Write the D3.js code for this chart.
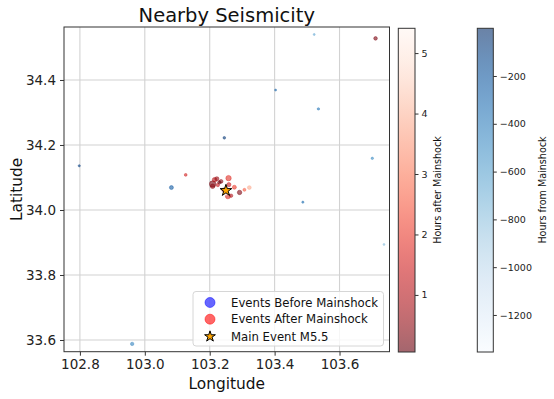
<!DOCTYPE html>
<html><head><meta charset="utf-8">
<script src="https://cdn.jsdelivr.net/npm/d3@7"></script>
<style>body{margin:0;background:#fff;font-family:"DejaVu Sans",sans-serif;}svg{display:block}</style>
</head><body><svg id="c" width="554" height="399"></svg>
<script>
// Events before mainshock
const beforeLon   = [103.245, 103.082, 102.798, 102.961, 103.522, 103.403, 103.535, 103.701, 103.487, 103.737, 103.230, 103.250];
const beforeLat   = [34.222, 34.069, 34.136, 33.588, 34.540, 34.369, 34.311, 34.159, 34.024, 33.894, 34.070, 34.065];
const beforeHours = [-40, -220, -90, -420, -650, -260, -380, -480, -330, -780, -1355, -0.4];
const beforeMag   = [1.4, 2.1, 1.2, 1.8, 1.1, 1.1, 1.3, 1.3, 1.2, 1.1, 1.3, 1.3];
// Events after mainshock
const afterLon   = [103.711, 103.126, 103.209, 103.215, 103.222, 103.235, 103.258, 103.259, 103.276, 103.292, 103.307, 103.322, 103.256, 103.266, 103.209, 103.225, 103.243, 103.250, 103.230];
const afterLat   = [34.528, 34.108, 34.080, 34.093, 34.096, 34.088, 34.098, 34.078, 34.070, 34.054, 34.062, 34.069, 34.042, 34.044, 34.073, 34.077, 34.062, 34.050, 34.085];
const afterHours = [0.3, 1.5, 0.2, 1.0, 0.6, 0.4, 1.8, 1.2, 2.0, 0.3, 2.5, 3.8, 1.6, 0.9, 0.5, 1.3, 0.7, 5.41, 0.056];
const afterMag   = [1.9, 1.5, 3.3, 2.4, 2.2, 2.0, 2.8, 2.2, 2.1, 2.3, 1.6, 2.0, 2.6, 1.8, 2.4, 1.8, 2.0, 1.6, 1.8];
// Main event
const mainLon = 103.25, mainLat = 34.06, mainLabel = "Main Event M5.5";
// Ticks
const xTicks = [102.8, 103.0, 103.2, 103.4, 103.6];
const yTicks = [33.6, 33.8, 34.0, 34.2, 34.4];
const redTicks = [1, 2, 3, 4, 5];
const blueTicks = [-1200, -1000, -800, -600, -400, -200];
const redDomain = [0.056, 5.41];
const blueDomain = [-1355, -0.4];

const svg = d3.select("#c");
const L = 64, R = 389.5, T = 27, B = 351.7;
const x = d3.scaleLinear().domain([102.751, 103.754]).range([L, R]);
const y = d3.scaleLinear().domain([33.564, 34.563]).range([B, T]);
const rS = d3.scaleLinear().domain([1, 3.5]).range([0.9, 3.4]);
const redC = d3.scaleSequential(t => d3.interpolateReds(1 - t)).domain(redDomain);
const blueC = d3.scaleSequential(d3.interpolateBlues).domain(blueDomain);
const A = 0.6;

// grid
const g = svg.append("g");
g.selectAll(".gx").data(xTicks).enter().append("line")
  .attr("x1", d => x(d)).attr("x2", d => x(d)).attr("y1", T).attr("y2", B)
  .attr("stroke", "#d2d2d2").attr("stroke-width", 1.1);
g.selectAll(".gy").data(yTicks).enter().append("line")
  .attr("y1", d => y(d)).attr("y2", d => y(d)).attr("x1", L).attr("x2", R)
  .attr("stroke", "#d2d2d2").attr("stroke-width", 1.1);

// points
const before = beforeLon.map((d, i) => ({lon: d, lat: beforeLat[i], h: beforeHours[i], m: beforeMag[i]}));
const after = afterLon.map((d, i) => ({lon: d, lat: afterLat[i], h: afterHours[i], m: afterMag[i]}));
svg.append("clipPath").attr("id", "pc").append("rect").attr("x", L).attr("y", T).attr("width", R - L).attr("height", B - T);
const pts = svg.append("g").attr("clip-path", "url(#pc)");
pts.selectAll(".b").data(before).enter().append("circle")
  .attr("cx", d => x(d.lon)).attr("cy", d => y(d.lat)).attr("r", d => rS(d.m))
  .attr("fill", d => blueC(d.h)).attr("fill-opacity", A)
  .attr("stroke", d => blueC(d.h)).attr("stroke-opacity", A).attr("stroke-width", 0.7);
pts.selectAll(".a").data(after).enter().append("circle")
  .attr("cx", d => x(d.lon)).attr("cy", d => y(d.lat)).attr("r", d => rS(d.m))
  .attr("fill", d => redC(d.h)).attr("fill-opacity", A)
  .attr("stroke", d => redC(d.h)).attr("stroke-opacity", A).attr("stroke-width", 0.7);
pts.append("path").attr("d", d3.symbol(d3.symbolStar, 42)())
  .attr("transform", `translate(${x(mainLon)},${y(mainLat)})`)
  .attr("fill", "#ffa500").attr("stroke", "#000").attr("stroke-width", 1);

// frame
svg.append("rect").attr("x", L).attr("y", T).attr("width", R - L).attr("height", B - T)
  .attr("fill", "none").attr("stroke", "#333").attr("stroke-width", 1);

// axes
const xa = svg.append("g").attr("transform", `translate(0,${B})`)
  .call(d3.axisBottom(x).tickValues(xTicks).tickFormat(d3.format(".1f")).tickSizeOuter(0).tickSize(4).tickPadding(4));
const ya = svg.append("g").attr("transform", `translate(${L},0)`)
  .call(d3.axisLeft(y).tickValues(yTicks).tickFormat(d3.format(".1f")).tickSizeOuter(0).tickSize(4).tickPadding(4));
[xa, ya].forEach(a => {
  a.select(".domain").remove();
  a.selectAll("line").attr("stroke", "#333");
  a.selectAll("text").attr("font-size", "13.5px").attr("fill", "#222").attr("font-family", "DejaVu Sans");
});

// labels
svg.append("text").attr("x", (L + R) / 2).attr("y", 21.5).attr("text-anchor", "middle")
  .attr("font-size", "19.5px").attr("fill", "#111").text("Nearby Seismicity");
svg.append("text").attr("x", (L + R) / 2).attr("y", 389).attr("text-anchor", "middle")
  .attr("font-size", "15.4px").attr("fill", "#111").text("Longitude");
svg.append("text").attr("transform", `translate(21.5,${(T + B) / 2}) rotate(-90)`).attr("text-anchor", "middle")
  .attr("font-size", "15.4px").attr("fill", "#111").text("Latitude");

// legend
const lg = svg.append("g");
lg.append("rect").attr("x", 193).attr("y", 291.5).attr("width", 190.5).attr("height", 54.5).attr("rx", 3)
  .attr("fill", "#fff").attr("fill-opacity", 0.8).attr("stroke", "#d6d6d6").attr("stroke-width", 1);
const legItems = [
  {t: "Events Before Mainshock", c: "rgb(0,0,255)", y: 302.5, k: "c"},
  {t: "Events After Mainshock", c: "rgb(255,0,0)", y: 319.2, k: "c"},
  {t: mainLabel, c: "#ffa500", y: 336.5, k: "s"}
];
legItems.forEach(it => {
  if (it.k === "c") {
    lg.append("circle").attr("cx", 210).attr("cy", it.y).attr("r", 5)
      .attr("fill", it.c).attr("fill-opacity", A).attr("stroke", it.c).attr("stroke-opacity", A).attr("stroke-width", 0.8);
  } else {
    lg.append("path").attr("d", d3.symbol(d3.symbolStar, 36)()).attr("transform", `translate(210,${it.y})`)
      .attr("fill", it.c).attr("stroke", "#000").attr("stroke-width", 1);
  }
  lg.append("text").attr("x", 231).attr("y", it.y + 4.2).attr("font-size", "11.7px").attr("fill", "#111").text(it.t);
});

// colorbars
function colorbar(x0, x1, domain, cfun, ticks, label, labelX, id) {
  const cy = d3.scaleLinear().domain(domain).range([352, 28.3]);
  const defs = svg.append("defs");
  const grad = defs.append("linearGradient").attr("id", id).attr("x1", 0).attr("x2", 0).attr("y1", 1).attr("y2", 0);
  d3.range(0, 1.0001, 0.05).forEach(t => {
    grad.append("stop").attr("offset", t).attr("stop-color", cfun(domain[0] + t * (domain[1] - domain[0]))).attr("stop-opacity", A);
  });
  svg.append("rect").attr("x", x0).attr("y", 28.3).attr("width", x1 - x0).attr("height", 352 - 28.3)
    .attr("fill", `url(#${id})`).attr("stroke", "#333").attr("stroke-width", 1);
  const ax = svg.append("g").attr("transform", `translate(${x1},0)`)
    .call(d3.axisRight(cy).tickValues(ticks).tickSize(3.5).tickPadding(3).tickSizeOuter(0).tickFormat(d => d3.format("d")(d).replace("-", "\u2212")));
  ax.select(".domain").remove();
  ax.selectAll("line").attr("stroke", "#333");
  ax.selectAll("text").attr("font-size", "9.5px").attr("fill", "#222").attr("font-family", "DejaVu Sans");
  svg.append("text").attr("transform", `translate(${labelX},190) rotate(-90)`).attr("text-anchor", "middle")
    .attr("font-size", "9.6px").attr("fill", "#111").text(label);
}
colorbar(398.3, 415, redDomain, redC, redTicks, "Hours after Mainshock", 440.5, "gr");
colorbar(477.3, 493.3, blueDomain, blueC, blueTicks, "Hours from Mainshock", 545.5, "gb");
</script></body></html>
